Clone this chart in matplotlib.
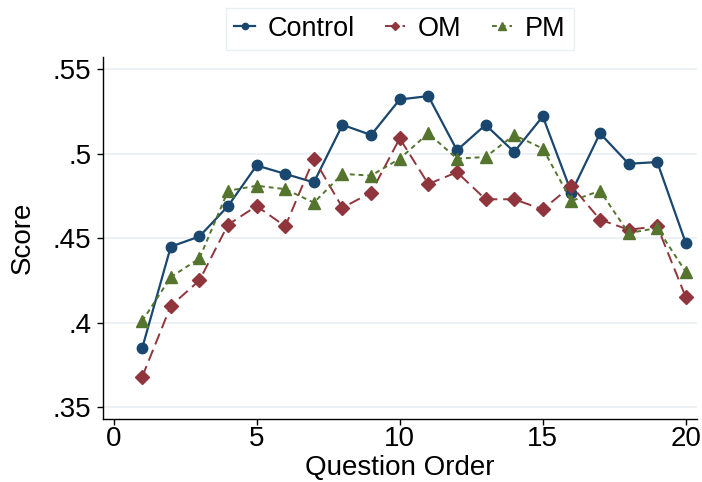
import matplotlib
matplotlib.use("Agg")
import matplotlib.pyplot as plt
from matplotlib.ticker import FuncFormatter

plt.rcParams['font.family'] = ['Liberation Sans', 'DejaVu Sans']

question = list(range(1, 21))
control = [0.385, 0.445, 0.451, 0.469, 0.493, 0.488, 0.483, 0.517, 0.511, 0.532,
           0.534, 0.502, 0.517, 0.501, 0.522, 0.477, 0.512, 0.494, 0.495, 0.447]
om = [0.368, 0.410, 0.425, 0.458, 0.469, 0.457, 0.497, 0.468, 0.477, 0.509,
      0.482, 0.489, 0.473, 0.473, 0.467, 0.481, 0.461, 0.455, 0.457, 0.415]
pm = [0.401, 0.427, 0.438, 0.478, 0.481, 0.479, 0.471, 0.488, 0.487, 0.497,
      0.512, 0.497, 0.498, 0.511, 0.503, 0.472, 0.478, 0.453, 0.456, 0.430]

x_ticks = [0, 5, 10, 15, 20]
y_ticks = [0.35, 0.40, 0.45, 0.50, 0.55]

navy = '#1a476f'
maroon = '#90353b'
green = '#55752f'

fig = plt.figure(figsize=(7.02, 4.82), dpi=100)
ax = fig.add_axes([0.1463, 0.1307, 0.8466, 0.7517])

ax.plot(question, control, color=navy, lw=1.6, ls='-', marker='o', ms=7.5,
        label='Control', zorder=3)
ax.plot(question, om, color=maroon, lw=1.4, ls=(0, (6, 3)), marker='D', ms=7,
        label='OM', zorder=4)
ax.plot(question, pm, color=green, lw=1.4, ls=(0, (2.5, 2)), marker='^', ms=8.5,
        label='PM', zorder=5)

ax.set_xlim(-0.38, 20.39)
ax.set_ylim(0.3431, 0.5573)
ax.set_xticks(x_ticks)
ax.set_yticks(y_ticks)
ax.yaxis.set_major_formatter(FuncFormatter(lambda v, p: ('%.2f' % v).lstrip('0').rstrip('0')))

ax.grid(axis='y', color='#e8eff2', lw=1.2)
ax.set_axisbelow(True)
for s in ['top', 'right']:
    ax.spines[s].set_visible(False)
for s in ['left', 'bottom']:
    ax.spines[s].set_color('black')
    ax.spines[s].set_linewidth(1.0)

ax.tick_params(axis='both', labelsize=20, length=4.5, width=1.0, color='black')
ax.tick_params(axis='x', pad=0.5)
ax.tick_params(axis='y', pad=3.5)
ax.set_xlabel('Question Order', fontsize=20, labelpad=2)
ax.set_ylabel('Score', fontsize=20)
ax.yaxis.set_label_coords(-0.112, 0.5)

leg = fig.legend(loc='upper center', bbox_to_anchor=(0.5698, 0.984), ncol=3,
                 fontsize=19.5, frameon=True, fancybox=False, edgecolor='#e4ecef',
                 handlelength=0.75, handletextpad=0.48, columnspacing=1.1,
                 markerscale=0.6, borderpad=0.3, borderaxespad=0)
leg.get_frame().set_linewidth(1.0)

fig.savefig('out.png', dpi=100, facecolor='white')
